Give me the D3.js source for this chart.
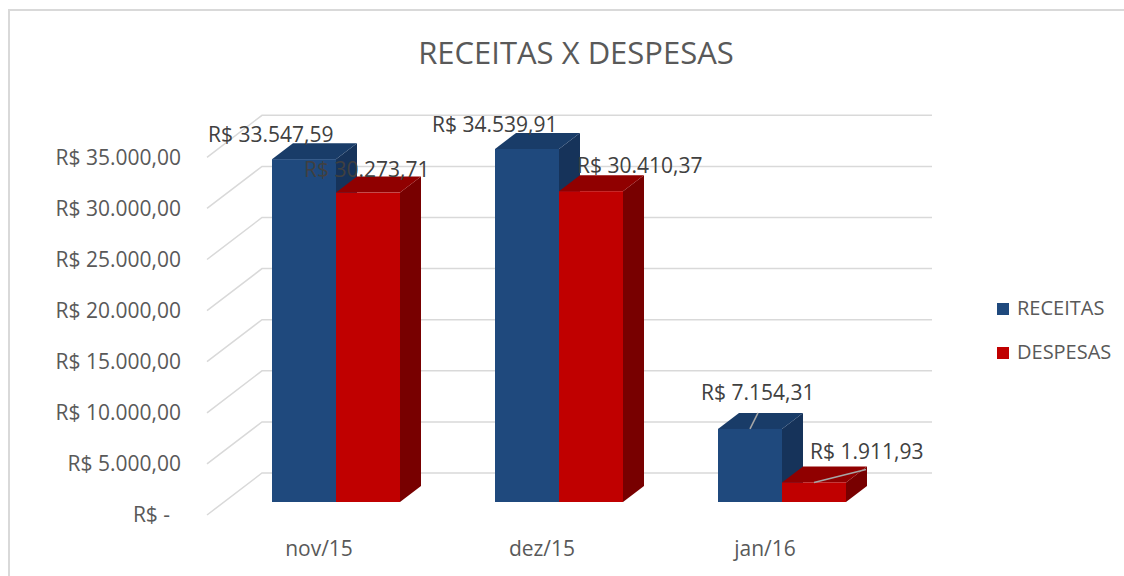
<!DOCTYPE html>
<html>
<head>
<meta charset="utf-8">
<script src="https://cdn.jsdelivr.net/npm/d3@7"></script>
<style>
  body { margin: 0; background: #fff; }
  text { font-family: "Open Sans", sans-serif; }
</style>
</head>
<body>
<svg id="chart" width="1124" height="576"></svg>
<script>
const categories = ['nov/15', 'dez/15', 'jan/16'];
const seriesNames = ['RECEITAS', 'DESPESAS'];
const receitas = [33547.59, 34539.91, 7154.31];
const despesas = [30273.71, 30410.37, 1911.93];
const yTicks = [0, 5000, 10000, 15000, 20000, 25000, 30000, 35000];

const svg = d3.select('#chart');
const W = 1124;

const colors = {
    RECEITAS: { front: '#1f497d', top: '#193c68', side: '#16335a' },
    DESPESAS: { front: '#c00000', top: '#900000', side: '#780000' }
};

// pt-BR currency
const brl = d3.formatLocale({ decimal: ',', thousands: '.', grouping: [3], currency: ['R$ ', ''] });
const fmt = brl.format('$,.2f');
const tickFmt = v => (v === 0 ? 'R$ -\u00a0\u00a0' : fmt(v));

// bar front plane scale
const y = d3.scaleLinear().domain([0, 35000]).range([502, 502 - 357.7]);
const x = d3.scaleBand().domain(categories).range([224.5, 224.5 + 669]).paddingInner(0.426).paddingOuter(0.213);
const xs = d3.scaleBand().domain(seriesNames).range([0, x.bandwidth()]);

// depth offsets
const depth = { dx: 21, dy: -16 };       // bar depth
const front = { dx: -17, dy: 13 };       // bar plane -> front wall
const back = { dx: 38, dy: -29 };        // bar plane -> back wall

const labelSize = 21;

// border
svg.append('rect')
    .attr('x', 9).attr('y', 10)
    .attr('width', W + 10).attr('height', 600)
    .attr('fill', 'none')
    .attr('stroke', '#d9d9d9')
    .attr('stroke-width', 2);

// title
svg.append('text')
    .attr('x', 576).attr('y', 64)
    .attr('text-anchor', 'middle')
    .attr('font-size', 31)
    .attr('fill', '#595959')
    .text('RECEITAS X DESPESAS');

// gridlines: diagonal on side wall, then horizontal on back wall
const xWallFront = 207;
const xWallBack = xWallFront + (back.dx - front.dx);
const xGridEnd = 932;
svg.append('g')
    .selectAll('polyline')
    .data(yTicks)
    .join('polyline')
    .attr('points', d => [
        [xWallFront, y(d) + front.dy],
        [xWallBack, y(d) + back.dy],
        [xGridEnd, y(d) + back.dy]
    ].join(' '))
    .attr('fill', 'none')
    .attr('stroke', '#d9d9d9')
    .attr('stroke-width', 1.5);

// y axis labels
const yAxis = svg.append('g')
    .attr('transform', `translate(${xWallFront},${front.dy})`)
    .call(d3.axisLeft(y).tickValues(yTicks).tickFormat(tickFmt).tickSize(0).tickPadding(26));
yAxis.select('.domain').remove();
yAxis.selectAll('text')
    .attr('font-family', '"Open Sans", sans-serif')
    .attr('font-size', labelSize)
    .attr('fill', '#595959');

// category labels on front wall
svg.append('g')
    .selectAll('text')
    .data(categories)
    .join('text')
    .attr('x', d => x(d) + x.bandwidth() / 2 + front.dx)
    .attr('y', 556)
    .attr('text-anchor', 'middle')
    .attr('font-size', labelSize)
    .attr('fill', '#595959')
    .text(d => d);

// bars
const bars = [];
categories.forEach((c, i) => {
    bars.push({ cat: c, series: 'RECEITAS', value: receitas[i] });
    bars.push({ cat: c, series: 'DESPESAS', value: despesas[i] });
});

const barG = svg.append('g');
bars.forEach(b => {
    const x0 = x(b.cat) + xs(b.series);
    const x1 = x0 + xs.bandwidth();
    const y0 = y(0);
    const y1 = y(b.value);
    const col = colors[b.series];
    const g = barG.append('g');
    g.append('polygon')
        .attr('points', [[x1, y1], [x1 + depth.dx, y1 + depth.dy], [x1 + depth.dx, y0 + depth.dy], [x1, y0]].join(' '))
        .attr('fill', col.side);
    g.append('polygon')
        .attr('points', [[x0, y1], [x0 + depth.dx, y1 + depth.dy], [x1 + depth.dx, y1 + depth.dy], [x1, y1]].join(' '))
        .attr('fill', col.top);
    g.append('rect')
        .attr('x', x0).attr('y', y1)
        .attr('width', x1 - x0).attr('height', y0 - y1)
        .attr('fill', col.front);
});

// data labels (nudges relative to bar front top-left, as placed in the original)
const labelNudge = [
    { dx: -64, dy: -17 }, { dx: -32, dy: -16 },
    { dx: -63, dy: -17 }, { dx: 18, dy: -18 },
    { dx: -17, dy: -29, lx: 8, ly: -16 }, { dx: 28, dy: -23, lx: 52, ly: -13 }
];
const labelG = svg.append('g');
bars.forEach((b, i) => {
    const n = labelNudge[i];
    const x0 = x(b.cat) + xs(b.series);
    const cx = x0 + xs.bandwidth() / 2;
    const y1 = y(b.value);
    if (n.lx !== undefined) {
        labelG.append('line')
            .attr('x1', cx).attr('y1', y1)
            .attr('x2', cx + n.lx).attr('y2', y1 + n.ly)
            .attr('stroke', '#a6a6a6')
            .attr('stroke-width', 1.5);
    }
    labelG.append('text')
        .attr('x', x0 + n.dx)
        .attr('y', y1 + n.dy)
        .attr('font-size', labelSize)
        .attr('fill', '#404040')
        .text(fmt(b.value));
});

// legend
const legend = svg.append('g')
    .selectAll('g')
    .data(seriesNames)
    .join('g')
    .attr('transform', (d, i) => `translate(997,${303 + i * 44})`);
legend.append('rect')
    .attr('width', 12).attr('height', 12)
    .attr('fill', d => colors[d].front);
legend.append('text')
    .attr('x', 20).attr('y', 12)
    .attr('font-size', 20)
    .attr('fill', '#595959')
    .text(d => d);
</script>
</body>
</html>
